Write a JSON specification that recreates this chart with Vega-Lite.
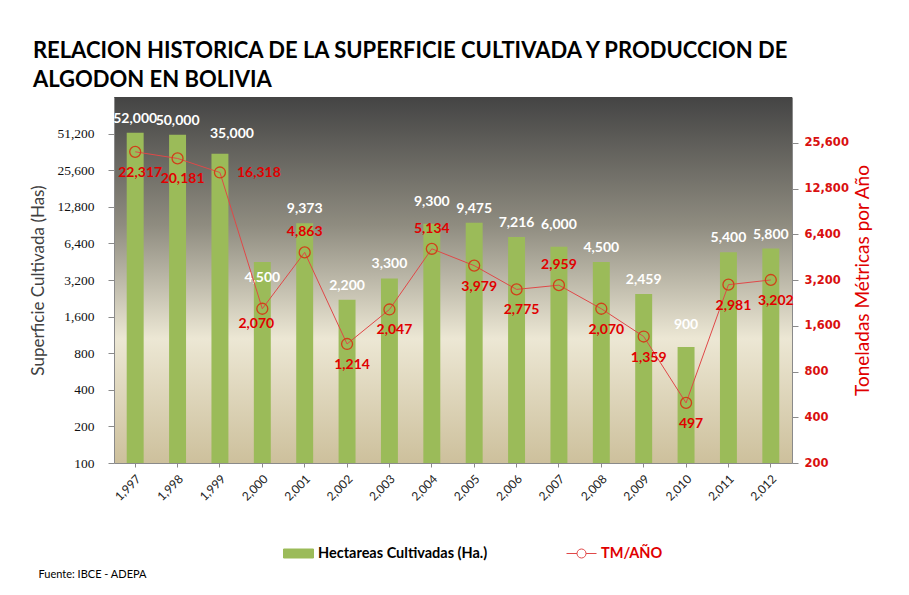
{
  "$schema": "https://vega.github.io/schema/vega-lite/v6.json",
  "width": 678,
  "height": 366,
  "autosize": {"type": "none"},
  "padding": {"left": 114, "top": 97, "right": 117, "bottom": 132},
  "background": "white",
  "title": {
    "text": ["RELACION HISTORICA DE LA SUPERFICIE CULTIVADA Y PRODUCCION DE", "ALGODON EN BOLIVIA"],
    "anchor": "start",
    "frame": "bounds",
    "offset": 5,
    "dx": 3,
    "font": "Lato",
    "fontSize": 22,
    "fontWeight": "bold",
    "color": "#000000",
    "lineHeight": 29
  },
  "view": {
    "fill": {
      "gradient": "linear",
      "x1": 0, "y1": 0, "x2": 0, "y2": 1,
      "stops": [
        {"offset": 0, "color": "#444444"},
        {"offset": 0.35, "color": "#8f8c80"},
        {"offset": 0.66, "color": "#ece7d4"},
        {"offset": 1, "color": "#cdc09c"}
      ]
    },
    "stroke": null
  },
  "config": {"font": "Lato", "axis": {"grid": false}},
  "data": {
    "values": [
      {"year": 1997, "ha": 52000, "tm": 22317},
      {"year": 1998, "ha": 50000, "tm": 20181},
      {"year": 1999, "ha": 35000, "tm": 16318},
      {"year": 2000, "ha": 4500, "tm": 2070},
      {"year": 2001, "ha": 9373, "tm": 4863},
      {"year": 2002, "ha": 2200, "tm": 1214},
      {"year": 2003, "ha": 3300, "tm": 2047},
      {"year": 2004, "ha": 9300, "tm": 5134},
      {"year": 2005, "ha": 9475, "tm": 3979},
      {"year": 2006, "ha": 7216, "tm": 2775},
      {"year": 2007, "ha": 6000, "tm": 2959},
      {"year": 2008, "ha": 4500, "tm": 2070},
      {"year": 2009, "ha": 2459, "tm": 1359},
      {"year": 2010, "ha": 900, "tm": 497},
      {"year": 2011, "ha": 5400, "tm": 2981},
      {"year": 2012, "ha": 5800, "tm": 3202}
    ]
  },
  "encoding": {
    "x": {
      "field": "year",
      "type": "ordinal",
      "scale": {"paddingInner": 0.6, "paddingOuter": 0.3},
      "axis": {
        "title": "Fuente: IBCE - ADEPA",
        "titleX": -76,
        "titleY": 111,
        "titleAlign": "left",
        "titleAnchor": "start",
        "titleBaseline": "middle",
        "titleFont": "Lato",
        "titleFontSize": 11,
        "titleFontWeight": "normal",
        "titleColor": "#000000",
        "labelAngle": -45,
        "labelFont": "Lato",
        "labelFontSize": 12,
        "labelColor": "#222222",
        "labelExpr": "format(datum.value, ',')",
        "labelPadding": 6,
        "domainColor": "#8a8a8a",
        "tickColor": "#8a8a8a",
        "tickSize": 4
      }
    }
  },
  "layer": [
    {
      "encoding": {
        "y": {
          "field": "ha",
          "type": "quantitative",
          "scale": {"type": "log", "base": 2, "domain": [100, 102400]},
          "axis": {
            "orient": "left",
            "title": "Superficie Cultivada (Has)",
            "values": [100, 200, 400, 800, 1600, 3200, 6400, 12800, 25600, 51200],
            "format": ",",
            "labelFont": "Liberation Serif",
            "labelFontSize": 13.5,
            "labelColor": "#111111",
            "labelPadding": 14,
            "tickSize": 6,
            "tickColor": "#8a8a8a",
            "domainColor": "#8a8a8a",
            "titleFont": "Lato",
            "titleFontSize": 17,
            "titleFontWeight": "normal",
            "titleColor": "#404040",
            "titlePadding": 9
          }
        }
      },
      "layer": [
        {
          "mark": {"type": "bar"},
          "encoding": {
            "y2": {"datum": 100},
            "color": {
              "datum": "Hectareas Cultivadas (Ha.)",
              "type": "nominal",
              "scale": {"domain": ["Hectareas Cultivadas (Ha.)", "TM/AÑO"], "range": ["#9bbb59", "#e04848"]},
              "legend": {
                "orient": "none",
                "legendX": 169,
                "legendY": 441,
                "direction": "horizontal",
                "title": null,
                "padding": 0,
                "symbolSize": 900,
                "columnPadding": 76,
                "labelFont": "Lato",
                "labelFontSize": 14.5,
                "labelFontWeight": "bold",
                "labelOffset": 4,
                "labelLimit": 400,
                "encode": {
                  "symbols": {
                    "update": {
                      "shape": {"signal": "datum.value === 'TM/AÑO' ? 'M-1,0H-0.3M0.3,0H1M0.3,0A0.3,0.3,0,1,1,-0.3,0A0.3,0.3,0,1,1,0.3,0' : 'M-1,-0.3H1V0.3H-1Z'"},
                      "fill": [{"test": "datum.value === 'TM/AÑO'", "value": "transparent"}, {"value": "#9bbb59"}],
                      "fillOpacity": [{"test": "datum.value === 'TM/AÑO'", "value": 0}, {"value": 1}],
                      "stroke": [{"test": "datum.value === 'TM/AÑO'", "value": "#d9302a"}, {"value": "transparent"}],
                      "strokeWidth": {"value": 1},
                      "opacity": {"value": 1}
                    }
                  },
                  "labels": {
                    "update": {
                      "fill": [{"test": "datum.value === 'TM/AÑO'", "value": "#e00000"}, {"value": "#000000"}]
                    }
                  }
                }
              }
            }
          }
        },
        {
          "transform": [{"filter": "indexof([1999, 2000, 2004, 2007, 2010], datum.year) < 0"}],
          "mark": {"type": "text", "color": "white", "fontSize": 14, "fontWeight": "bold", "font": "Lato", "baseline": "middle", "dy": -14},
          "encoding": {"text": {"field": "ha", "type": "quantitative", "format": ","}}
        },
        {
          "transform": [{"filter": "datum.year === 2000"}],
          "mark": {"type": "text", "color": "white", "fontSize": 14, "fontWeight": "bold", "font": "Lato", "baseline": "middle", "dy": 16},
          "encoding": {"text": {"field": "ha", "type": "quantitative", "format": ","}}
        },
        {
          "transform": [{"filter": "datum.year === 1999"}],
          "mark": {"type": "text", "color": "white", "fontSize": 14, "fontWeight": "bold", "font": "Lato", "baseline": "middle", "dy": -20, "dx": 12},
          "encoding": {"text": {"field": "ha", "type": "quantitative", "format": ","}}
        },
        {
          "transform": [{"filter": "indexof([2004, 2007, 2010], datum.year) >= 0"}],
          "mark": {"type": "text", "color": "white", "fontSize": 14, "fontWeight": "bold", "font": "Lato", "baseline": "middle", "dy": -22},
          "encoding": {"text": {"field": "ha", "type": "quantitative", "format": ","}}
        }
      ]
    },
    {
      "encoding": {
        "y": {
          "field": "tm",
          "type": "quantitative",
          "scale": {"type": "log", "base": 2, "domain": [200, 51200]},
          "axis": {
            "orient": "right",
            "title": "Toneladas Métricas por Año",
            "titleAngle": 270,
            "titleX": 70,
            "titleY": 183,
            "titleAlign": "center",
            "titleBaseline": "middle",
            "values": [200, 400, 800, 1600, 3200, 6400, 12800, 25600],
            "format": ",",
            "labelFont": "DejaVu Sans",
            "labelFontSize": 11.5,
            "labelFontWeight": "bold",
            "labelColor": "#d91010",
            "labelPadding": 6,
            "tickSize": 6,
            "tickColor": "#8a8a8a",
            "domainColor": "#8a8a8a",
            "titleFont": "Lato",
            "titleFontSize": 19,
            "titleFontWeight": "normal",
            "titleColor": "#e00000"
          }
        }
      },
      "layer": [
        {
          "mark": {"type": "line", "strokeWidth": 1},
          "encoding": {"color": {"datum": "TM/AÑO", "type": "nominal"}}
        },
        {
          "mark": {"type": "point", "filled": false, "size": 120, "stroke": "#d0401a", "strokeWidth": 1.3, "opacity": 1}
        },
        {
          "transform": [{"filter": "indexof([1999, 2000, 2001, 2004, 2007], datum.year) < 0"}],
          "mark": {"type": "text", "color": "#e00000", "fontSize": 14, "fontWeight": "bold", "font": "Lato", "baseline": "middle", "dy": 21, "dx": 5},
          "encoding": {"text": {"field": "tm", "type": "quantitative", "format": ","}}
        },
        {
          "transform": [{"filter": "datum.year === 2000"}],
          "mark": {"type": "text", "color": "#e00000", "fontSize": 14, "fontWeight": "bold", "font": "Lato", "baseline": "middle", "dy": 15, "dx": -6},
          "encoding": {"text": {"field": "tm", "type": "quantitative", "format": ","}}
        },
        {
          "transform": [{"filter": "indexof([2001, 2004, 2007], datum.year) >= 0"}],
          "mark": {"type": "text", "color": "#e00000", "fontSize": 14, "fontWeight": "bold", "font": "Lato", "baseline": "middle", "dy": -20},
          "encoding": {"text": {"field": "tm", "type": "quantitative", "format": ","}}
        },
        {
          "transform": [{"filter": "datum.year === 1999"}],
          "mark": {"type": "text", "color": "#e00000", "fontSize": 14, "fontWeight": "bold", "font": "Lato", "baseline": "middle", "align": "left", "dx": 17, "dy": 1},
          "encoding": {"text": {"field": "tm", "type": "quantitative", "format": ","}}
        }
      ]
    }
  ],
  "resolve": {"scale": {"y": "independent"}}
}
